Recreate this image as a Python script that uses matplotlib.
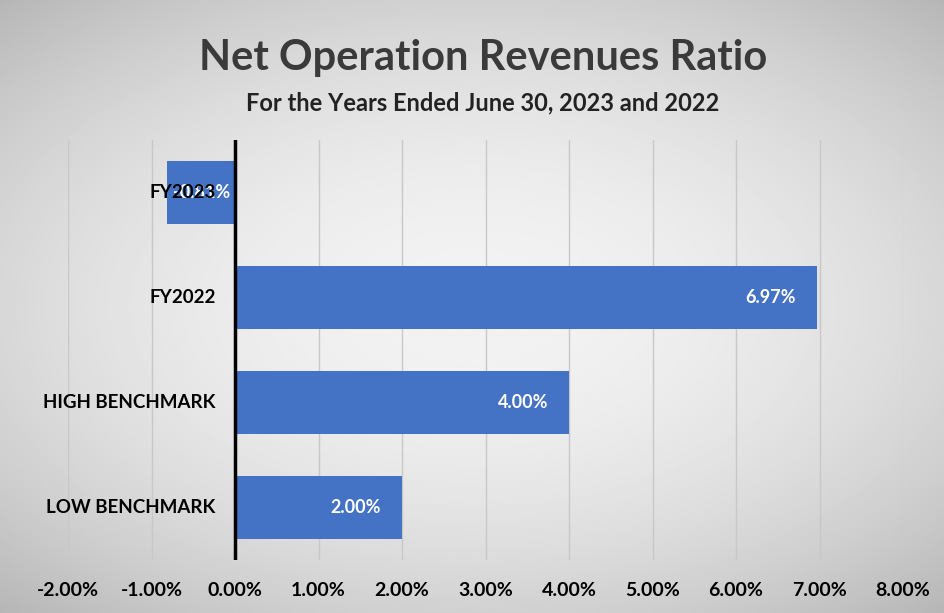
import matplotlib.pyplot as plt
import numpy as np
from matplotlib.ticker import FuncFormatter

categories = ["FY2023", "FY2022", "HIGH BENCHMARK", "LOW BENCHMARK"]
ratios = [-0.81, 6.97, 4.00, 2.00]
x_ticks = [-2, -1, 0, 1, 2, 3, 4, 5, 6, 7, 8]

plt.rcParams['font.family'] = ['Lato', 'DejaVu Sans']

fig = plt.figure(figsize=(9.45, 6.13), dpi=100)

# soft radial grey backdrop
bg = fig.add_axes([0, 0, 1, 1], zorder=-10)
yy, xx = np.mgrid[-1:1:300j, -1:1:460j]
r = np.sqrt((xx * 0.9) ** 2 + (yy * 1.0) ** 2)
shade = 0.95 - 0.13 * np.clip(r, 0, 1.4) ** 2
bg.imshow(shade, cmap='gray', vmin=0, vmax=1, aspect='auto', extent=[0, 1, 0, 1])
bg.set_axis_off()

ax = fig.add_axes([0.072, 0.0865, 0.8836, 0.6855])
ax.patch.set_alpha(0)

y = np.arange(len(categories))
ax.barh(y, ratios, height=0.6, color='#4472C4', edgecolor='none', zorder=2)

ax.set_ylim(len(categories) - 0.5, -0.5)
ax.set_xlim(-2, 8)
ax.set_xticks(x_ticks)
ax.xaxis.set_major_formatter(FuncFormatter(lambda v, _: f"{v:.2f}%"))
ax.grid(axis='x', color='#c8c8c8', lw=1, zorder=0)
ax.axvline(0, color='black', lw=2.5, zorder=3)
ax.tick_params(axis='x', length=0, pad=16, labelsize=14)
for lbl in ax.get_xticklabels():
    lbl.set_fontweight('bold')
ax.set_yticks([])
for s in ax.spines.values():
    s.set_visible(False)

# value labels inside bar ends
for yi, v in zip(y, ratios):
    ha = 'right' if v > 0 else 'left'
    off = -15 if v > 0 else 4
    ax.annotate(f"{v:.2f}%", (v, yi), xytext=(off, 0), textcoords='offset points',
                ha=ha, va='center', color='white', fontsize=13, fontweight='bold', zorder=4)

# category names sit left of the zero line
for yi, name in zip(y, categories):
    ax.annotate(name, (0, yi), xytext=(-14, 0), textcoords='offset points',
                ha='right', va='center', color='black', fontsize=13.5, fontweight='bold', zorder=5)

fig.text(0.511, 0.905, "Net Operation Revenues Ratio", ha='center', va='center',
         fontsize=30, fontweight='bold', color='#3a3a3a')
fig.text(0.511, 0.832, "For the Years Ended June 30, 2023 and 2022", ha='center', va='center',
         fontsize=17, fontweight='bold', color='#222222')

fig.savefig("out.png", dpi=100)
